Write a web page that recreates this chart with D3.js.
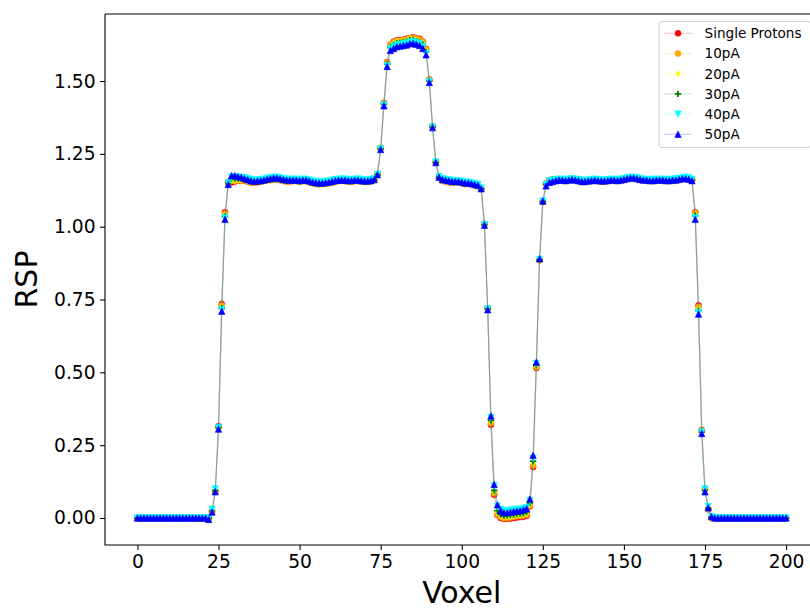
<!DOCTYPE html>
<html><head><meta charset="utf-8">
<script src="https://cdn.jsdelivr.net/npm/d3@7"></script>
<style>body{margin:0;background:#fff}svg{display:block}</style>
</head><body>
<svg id="chart" width="810" height="609"></svg>
<script>
/* RSP profile along a voxel line, for six beam currents */

/* ---------- DATA ---------- */
const VOXEL = d3.range(0, 201);
const SERIES = ["Single Protons", "10pA", "20pA", "30pA", "40pA", "50pA"];
const X_TICKS = [0, 25, 50, 75, 100, 125, 150, 175, 200];
const Y_TICKS = [0, 0.25, 0.5, 0.75, 1, 1.25, 1.5];

const RSP_SINGLE = [
  0,0,0,0,0,0,0,0,0,0,
  0,0,0,0,0,0,0,0,0,0,
  0,0,0,0.02,0.09,0.315,0.735,1.05,1.152,1.152,
  1.155,1.158,1.158,1.158,1.155,1.152,1.15,1.152,1.155,1.158,
  1.16,1.16,1.162,1.162,1.16,1.158,1.155,1.155,1.157,1.157,
  1.155,1.157,1.157,1.153,1.15,1.147,1.147,1.147,1.148,1.15,
  1.152,1.155,1.158,1.158,1.157,1.155,1.155,1.157,1.157,1.155,
  1.155,1.155,1.157,1.16,1.18,1.27,1.425,1.565,1.625,1.635,
  1.64,1.64,1.642,1.645,1.647,1.65,1.647,1.645,1.635,1.61,
  1.505,1.345,1.222,1.168,1.158,1.155,1.153,1.152,1.152,1.152,
  1.15,1.147,1.147,1.145,1.142,1.14,1.13,1.01,0.72,0.32,
  0.08,0.01,0,-0.003,-0.003,-0.002,0,0.002,0.003,0.004,
  0.008,0.04,0.175,0.515,0.885,1.085,1.148,1.16,1.162,1.163,
  1.163,1.163,1.161,1.163,1.164,1.163,1.161,1.158,1.158,1.159,
  1.16,1.162,1.16,1.159,1.159,1.16,1.162,1.162,1.16,1.162,
  1.164,1.167,1.169,1.169,1.167,1.164,1.162,1.162,1.16,1.16,
  1.162,1.162,1.162,1.16,1.16,1.162,1.162,1.164,1.167,1.167,
  1.165,1.162,1.05,0.73,0.302,0.1,0.03,0,0,0,
  0,0,0,0,0,0,0,0,0,0,
  0,0,0,0,0,0,0,0,0,0,
  0
];
const RSP_10PA = [
  0,0,0,0,0,0,0,0,0,0,
  0,0,0,0,0,0,0,0,0,0,
  0,0,0,0.02,0.09,0.31,0.73,1.045,1.15,1.158,
  1.158,1.159,1.159,1.159,1.156,1.153,1.151,1.152,1.154,1.157,
  1.159,1.161,1.162,1.162,1.16,1.158,1.156,1.156,1.157,1.157,
  1.155,1.157,1.157,1.153,1.15,1.147,1.146,1.146,1.147,1.149,
  1.151,1.155,1.158,1.158,1.157,1.155,1.155,1.157,1.157,1.155,
  1.155,1.155,1.157,1.16,1.18,1.27,1.424,1.563,1.623,1.633,
  1.638,1.638,1.64,1.643,1.646,1.648,1.645,1.642,1.633,1.608,
  1.504,1.345,1.222,1.168,1.158,1.155,1.153,1.152,1.152,1.152,
  1.15,1.147,1.147,1.145,1.142,1.139,1.13,1.009,0.72,0.325,
  0.085,0.013,0.004,0,0,0.002,0.004,0.006,0.007,0.009,
  0.012,0.043,0.18,0.518,0.885,1.085,1.148,1.158,1.16,1.162,
  1.162,1.162,1.16,1.162,1.163,1.162,1.16,1.157,1.157,1.158,
  1.159,1.161,1.159,1.158,1.158,1.159,1.161,1.161,1.159,1.161,
  1.163,1.166,1.168,1.168,1.166,1.163,1.161,1.161,1.159,1.159,
  1.161,1.161,1.161,1.159,1.159,1.161,1.161,1.163,1.166,1.166,
  1.164,1.161,1.048,0.725,0.3,0.1,0.03,0,0,0,
  0,0,0,0,0,0,0,0,0,0,
  0,0,0,0,0,0,0,0,0,0,
  0
];
const RSP_20PA = [
  0,0,0,0,0,0,0,0,0,0,
  0,0,0,0,0,0,0,0,0,0,
  0,0,0,0.025,0.095,0.31,0.725,1.04,1.15,1.158,
  1.158,1.16,1.16,1.16,1.157,1.153,1.151,1.152,1.153,1.155,
  1.158,1.16,1.162,1.162,1.16,1.157,1.155,1.155,1.155,1.155,
  1.153,1.155,1.155,1.152,1.148,1.146,1.145,1.145,1.146,1.148,
  1.15,1.153,1.155,1.155,1.155,1.153,1.153,1.155,1.155,1.153,
  1.152,1.152,1.153,1.158,1.18,1.268,1.422,1.56,1.62,1.63,
  1.635,1.636,1.638,1.64,1.644,1.646,1.642,1.638,1.63,1.605,
  1.502,1.344,1.221,1.168,1.158,1.155,1.153,1.151,1.151,1.151,
  1.149,1.146,1.146,1.144,1.141,1.138,1.13,1.008,0.72,0.33,
  0.09,0.018,0.007,0.003,0.003,0.005,0.007,0.009,0.01,0.012,
  0.016,0.047,0.188,0.52,0.886,1.086,1.147,1.157,1.158,1.16,
  1.157,1.156,1.154,1.156,1.158,1.156,1.154,1.151,1.151,1.153,
  1.154,1.156,1.154,1.153,1.153,1.154,1.156,1.156,1.154,1.156,
  1.158,1.161,1.163,1.163,1.161,1.158,1.156,1.156,1.154,1.154,
  1.156,1.156,1.156,1.154,1.154,1.156,1.156,1.158,1.161,1.161,
  1.16,1.16,1.043,0.72,0.298,0.097,0.032,0.002,0,0,
  0,0,0,0,0,0,0,0,0,0,
  0,0,0,0,0,0,0,0,0,0,
  0
];
const RSP_30PA = [
  0,0,0,0,0,0,0,0,0,0,
  0,0,0,0,0,0,0,0,0,0,
  0,0,0,0.025,0.095,0.31,0.72,1.035,1.148,1.165,
  1.165,1.165,1.165,1.162,1.16,1.156,1.154,1.155,1.156,1.158,
  1.161,1.163,1.165,1.165,1.163,1.16,1.158,1.158,1.158,1.158,
  1.156,1.158,1.158,1.155,1.152,1.15,1.149,1.149,1.15,1.152,
  1.154,1.157,1.158,1.159,1.158,1.157,1.157,1.158,1.159,1.157,
  1.156,1.156,1.157,1.161,1.179,1.267,1.42,1.558,1.615,1.625,
  1.63,1.632,1.634,1.636,1.64,1.642,1.638,1.634,1.625,1.6,
  1.5,1.343,1.221,1.17,1.161,1.158,1.156,1.154,1.154,1.154,
  1.152,1.149,1.149,1.147,1.144,1.141,1.131,1.007,0.718,0.335,
  0.095,0.025,0.012,0.008,0.008,0.01,0.012,0.014,0.015,0.017,
  0.021,0.052,0.195,0.525,0.887,1.087,1.145,1.155,1.157,1.159,
  1.16,1.16,1.158,1.16,1.162,1.16,1.158,1.155,1.155,1.157,
  1.158,1.16,1.158,1.157,1.157,1.158,1.16,1.16,1.158,1.16,
  1.162,1.165,1.167,1.167,1.165,1.162,1.16,1.16,1.158,1.158,
  1.16,1.16,1.16,1.158,1.158,1.16,1.16,1.162,1.165,1.165,
  1.163,1.16,1.038,0.712,0.295,0.095,0.033,0.003,0,0,
  0,0,0,0,0,0,0,0,0,0,
  0,0,0,0,0,0,0,0,0,0,
  0
];
const RSP_40PA = [
  0,0,0,0,0,0,0,0,0,0,
  0,0,0,0,0,0,0,0,0,0,
  0,0,0,0.03,0.1,0.31,0.715,1.03,1.15,1.17,
  1.172,1.17,1.17,1.168,1.165,1.162,1.16,1.16,1.162,1.163,
  1.166,1.168,1.17,1.17,1.168,1.165,1.163,1.163,1.163,1.163,
  1.162,1.163,1.163,1.16,1.157,1.155,1.154,1.154,1.155,1.157,
  1.159,1.162,1.163,1.164,1.163,1.162,1.162,1.163,1.164,1.162,
  1.16,1.16,1.162,1.165,1.18,1.267,1.418,1.553,1.61,1.618,
  1.624,1.626,1.628,1.63,1.634,1.636,1.632,1.628,1.618,1.595,
  1.498,1.342,1.222,1.172,1.165,1.163,1.161,1.158,1.158,1.158,
  1.156,1.153,1.153,1.151,1.148,1.145,1.133,1.007,0.718,0.345,
  0.11,0.04,0.03,0.025,0.025,0.027,0.028,0.03,0.03,0.033,
  0.036,0.06,0.205,0.53,0.888,1.088,1.145,1.158,1.16,1.162,
  1.163,1.163,1.162,1.163,1.165,1.163,1.162,1.159,1.159,1.16,
  1.162,1.163,1.162,1.16,1.16,1.162,1.163,1.163,1.162,1.163,
  1.165,1.168,1.17,1.17,1.168,1.165,1.163,1.163,1.162,1.162,
  1.163,1.163,1.163,1.162,1.162,1.163,1.164,1.166,1.168,1.17,
  1.168,1.162,1.03,0.705,0.295,0.1,0.04,0.005,0,0,
  0,0,0,0,0,0,0,0,0,0,
  0,0,0,0,0,0,0,0,0,0,
  0
];
const RSP_50PA = [
  0,0,0,0,0,0,0,0,0,0,
  0,0,0,0,0,0,0,0,0,0,
  0,0,-0.005,0.02,0.09,0.305,0.71,1.025,1.145,1.175,
  1.175,1.172,1.17,1.165,1.162,1.158,1.156,1.157,1.158,1.16,
  1.163,1.165,1.167,1.167,1.165,1.162,1.16,1.16,1.16,1.16,
  1.158,1.16,1.16,1.157,1.153,1.151,1.15,1.15,1.151,1.153,
  1.155,1.158,1.16,1.16,1.16,1.158,1.158,1.16,1.16,1.158,
  1.157,1.157,1.158,1.162,1.178,1.265,1.415,1.55,1.605,1.612,
  1.618,1.62,1.622,1.624,1.628,1.63,1.626,1.622,1.612,1.59,
  1.495,1.34,1.22,1.17,1.162,1.16,1.158,1.155,1.155,1.155,
  1.153,1.15,1.15,1.148,1.145,1.142,1.13,1.005,0.715,0.35,
  0.115,0.045,0.025,0.018,0.018,0.02,0.022,0.024,0.025,0.028,
  0.032,0.065,0.215,0.535,0.89,1.088,1.14,1.152,1.155,1.158,
  1.16,1.16,1.158,1.16,1.162,1.16,1.158,1.155,1.155,1.157,
  1.158,1.16,1.158,1.157,1.157,1.158,1.16,1.16,1.158,1.16,
  1.162,1.165,1.167,1.167,1.165,1.162,1.16,1.16,1.158,1.158,
  1.16,1.16,1.16,1.158,1.158,1.16,1.16,1.162,1.165,1.165,
  1.163,1.158,1.025,0.7,0.29,0.09,0.035,0.005,0,0,
  0,0,0,0,0,0,0,0,0,0,
  0,0,0,0,0,0,0,0,0,0,
  0
];
const VALUES = [RSP_SINGLE, RSP_10PA, RSP_20PA, RSP_30PA, RSP_40PA, RSP_50PA];

/* ---------- STYLE ---------- */
const COLORS  = ["#ff0000", "#ffa500", "#ffff00", "#008000", "#00ffff", "#0000ff"];
const MARKERS = ["circle", "circle", "thin_diamond", "plus", "tri_down", "tri_up"];
const FONT = "DejaVu Sans, sans-serif";
const PLOT = {left: 105, right: 818.5, top: 14, bottom: 545};

const svg = d3.select("#chart");

const x = d3.scaleLinear().domain([-10, 210]).range([PLOT.left, PLOT.right]);
const y = d3.scaleLinear().domain([-0.0927, 1.7302]).range([PLOT.bottom, PLOT.top]);

/* marker shapes, matplotlib-like, drawn around 0,0 */
function marker(sel, kind, col) {
  const s = 3.2;
  if (kind === "circle") {
    sel.append("circle").attr("r", 3).attr("fill", col).attr("stroke", col).attr("stroke-width", 0.6);
  } else if (kind === "thin_diamond") {
    sel.append("path").attr("d", `M0,${-s}L${s*0.6},0L0,${s}L${-s*0.6},0Z`)
      .attr("fill", col).attr("stroke", col).attr("stroke-width", 0.6);
  } else if (kind === "plus") {
    sel.append("path").attr("d", `M${-s},0H${s}M0,${-s}V${s}`)
      .attr("fill", "none").attr("stroke", col).attr("stroke-width", 1.8);
  } else if (kind === "tri_down") {
    sel.append("path").attr("d", `M${-s},${-s}L${s},${-s}L0,${s}Z`)
      .attr("fill", col).attr("stroke", col).attr("stroke-width", 0.6);
  } else {
    sel.append("path").attr("d", `M0,${-s}L${s},${s}L${-s},${s}Z`)
      .attr("fill", col).attr("stroke", col).attr("stroke-width", 0.6);
  }
}

/* ---------- PLOT ---------- */
svg.append("defs").append("clipPath").attr("id", "clip")
  .append("rect").attr("x", PLOT.left).attr("y", PLOT.top)
  .attr("width", PLOT.right - PLOT.left).attr("height", PLOT.bottom - PLOT.top);

const plot = svg.append("g").attr("clip-path", "url(#clip)");
const line = d3.line().x((v, i) => x(VOXEL[i])).y(v => y(v));

VALUES.forEach((vals, k) => {
  const g = plot.append("g");
  g.append("path").attr("d", line(vals))
    .attr("fill", "none").attr("stroke", COLORS[k])
    .attr("stroke-opacity", 0.2).attr("stroke-width", 1.2);
  g.selectAll("g.pt").data(vals).enter().append("g").attr("class", "pt")
    .attr("transform", (v, i) => `translate(${x(VOXEL[i])},${y(v)})`)
    .each(function () { marker(d3.select(this), MARKERS[k], COLORS[k]); });
});

/* ---------- AXES ---------- */
const xAxis = svg.append("g").attr("transform", `translate(0,${PLOT.bottom})`)
  .call(d3.axisBottom(x).tickValues(X_TICKS).tickFormat(d3.format("d"))
        .tickSize(4.9).tickPadding(4.5));
const yAxis = svg.append("g").attr("transform", `translate(${PLOT.left},0)`)
  .call(d3.axisLeft(y).tickValues(Y_TICKS).tickFormat(d3.format(".2f"))
        .tickSize(4.9).tickPadding(4.5));
[xAxis, yAxis].forEach(a => {
  a.select(".domain").remove();
  a.selectAll("line").attr("stroke", "#000").attr("stroke-width", 1.1);
  a.selectAll("text").attr("fill", "#000").style("font-family", FONT).style("font-size", "18.7px");
});

/* spines */
const sp = svg.append("g").attr("stroke", "#000").attr("stroke-width", 1.1).attr("fill", "none");
sp.append("path").attr("d", `M${PLOT.left},${PLOT.top}V${PLOT.bottom}H${PLOT.right}`);
sp.append("path").attr("d", `M${PLOT.left},${PLOT.top}H${PLOT.right}`);

svg.append("text").attr("x", (PLOT.left + PLOT.right) / 2).attr("y", 603)
  .attr("text-anchor", "middle").style("font-family", FONT).style("font-size", "30px")
  .text("Voxel");
svg.append("text").attr("transform", `translate(37,${(PLOT.top + PLOT.bottom) / 2}) rotate(-90)`)
  .attr("text-anchor", "middle").style("font-family", FONT).style("font-size", "30px")
  .text("RSP");

/* ---------- LEGEND ---------- */
const lg = svg.append("g");
lg.append("rect").attr("x", 659).attr("y", 21.5).attr("width", 152).attr("height", 126)
  .attr("rx", 3).attr("fill", "#fff").attr("fill-opacity", 0.8)
  .attr("stroke", "#cccccc").attr("stroke-width", 1);
SERIES.forEach((name, k) => {
  const yy = 33.3 + k * 20.2;
  lg.append("line").attr("x1", 664).attr("x2", 692).attr("y1", yy).attr("y2", yy)
    .attr("stroke", COLORS[k]).attr("stroke-opacity", 0.2).attr("stroke-width", 1.2);
  marker(lg.append("g").attr("transform", `translate(678,${yy})`), MARKERS[k], COLORS[k]);
  lg.append("text").attr("x", 704.5).attr("y", yy).attr("dy", "0.36em")
    .style("font-family", FONT).style("font-size", "13.6px").text(name);
});
</script>
</body></html>
